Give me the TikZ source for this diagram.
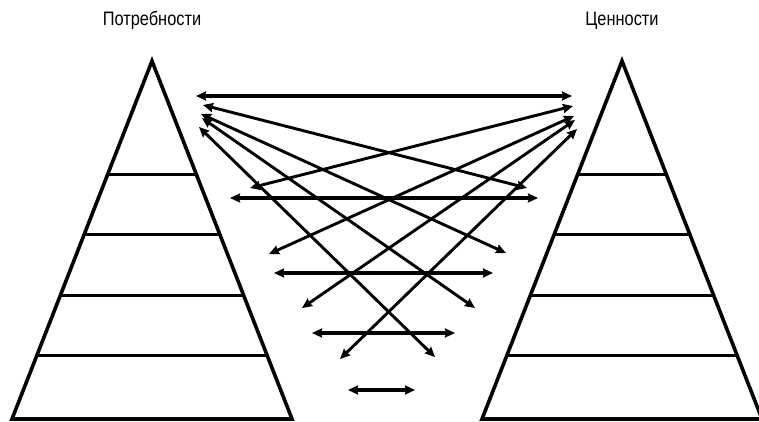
\documentclass[tikz,border=0pt]{standalone}
\usepackage{fontspec}
\newfontfamily\headfont{Liberation Sans}[FakeStretch=0.84]
\usepackage{tikz}
\usetikzlibrary{arrows.meta, calc}

\begin{document}
\begin{tikzpicture}[
    x=1pt, y=-1pt,
    heading/.style={anchor=base, font=\headfont\fontsize{19.5}{23}\selectfont},
    pyramid/.style={draw=black, line width=3.6pt, line join=miter},
    level/.style={draw=black, line width=3.2pt},
    link/.style={line width=3.8pt, <->, >={Stealth[length=10pt, width=9pt, inset=1pt]}},
    cross/.style={link, line width=2.9pt},
]
    \useasboundingbox (0,0) rectangle (759,422);

    % Headings
    \node (needs) [heading] at (152,26) {Потребности};
    \node (values) [heading] at (622,26) {Ценности};

    % Pyramids
    \coordinate (needs_apex) at (152,61);
    \coordinate (needs_left) at (12,419);
    \coordinate (needs_right) at (292,419);
    \coordinate (values_apex) at (622,61);
    \coordinate (values_left) at (482,419);
    \coordinate (values_right) at (762,419);

    \draw [pyramid] (needs_apex) -- (needs_left) -- (needs_right) -- cycle;
    \draw [pyramid] (values_apex) -- (values_left) -- (values_right) -- cycle;
    \foreach \t in {0.316, 0.484, 0.654, 0.823} {
        \draw [level] ($(needs_apex)!\t!(needs_left)$) -- ($(needs_apex)!\t!(needs_right)$);
        \draw [level] ($(values_apex)!\t!(values_left)$) -- ($(values_apex)!\t!(values_right)$);
    }

    % Arrow ends near the needs pyramid
    \coordinate (n1) at (196,96);
    \coordinate (n2) at (203,105);
    \coordinate (n3) at (201,114);
    \coordinate (n4) at (202,118);
    \coordinate (n5) at (199,127);
    \coordinate (n_low1) at (250,188);
    \coordinate (n_low2) at (269,254);
    \coordinate (n_low3) at (302,308);
    \coordinate (n_low4) at (340,359);

    % Arrow ends near the values pyramid
    \coordinate (v1) at (572,96);
    \coordinate (v2) at (573,106);
    \coordinate (v3) at (574,116);
    \coordinate (v4) at (575,120);
    \coordinate (v5) at (577,129);
    \coordinate (v_low1) at (527,188);
    \coordinate (v_low2) at (506,253);
    \coordinate (v_low3) at (475,308);
    \coordinate (v_low4) at (435,357);

    % Middle rungs
    \coordinate (rung2_l) at (230,198);
    \coordinate (rung2_r) at (538,198);
    \coordinate (rung3_l) at (274,273);
    \coordinate (rung3_r) at (493,273);
    \coordinate (rung4_l) at (312,333);
    \coordinate (rung4_r) at (455,333);
    \coordinate (rung5_l) at (348,390);
    \coordinate (rung5_r) at (415,390);

    \draw [link] (n1) -- (v1);
    \draw [link] (rung2_l) -- (rung2_r);
    \draw [link] (rung3_l) -- (rung3_r);
    \draw [link] (rung4_l) -- (rung4_r);
    \draw [link] (rung5_l) -- (rung5_r);

    \draw [cross] (n2) -- (v_low1);
    \draw [cross] (n3) -- (v_low2);
    \draw [cross] (n4) -- (v_low3);
    \draw [cross] (n5) -- (v_low4);
    \draw [cross] (v2) -- (n_low1);
    \draw [cross] (v3) -- (n_low2);
    \draw [cross] (v4) -- (n_low3);
    \draw [cross] (v5) -- (n_low4);

\end{tikzpicture}
\end{document}
